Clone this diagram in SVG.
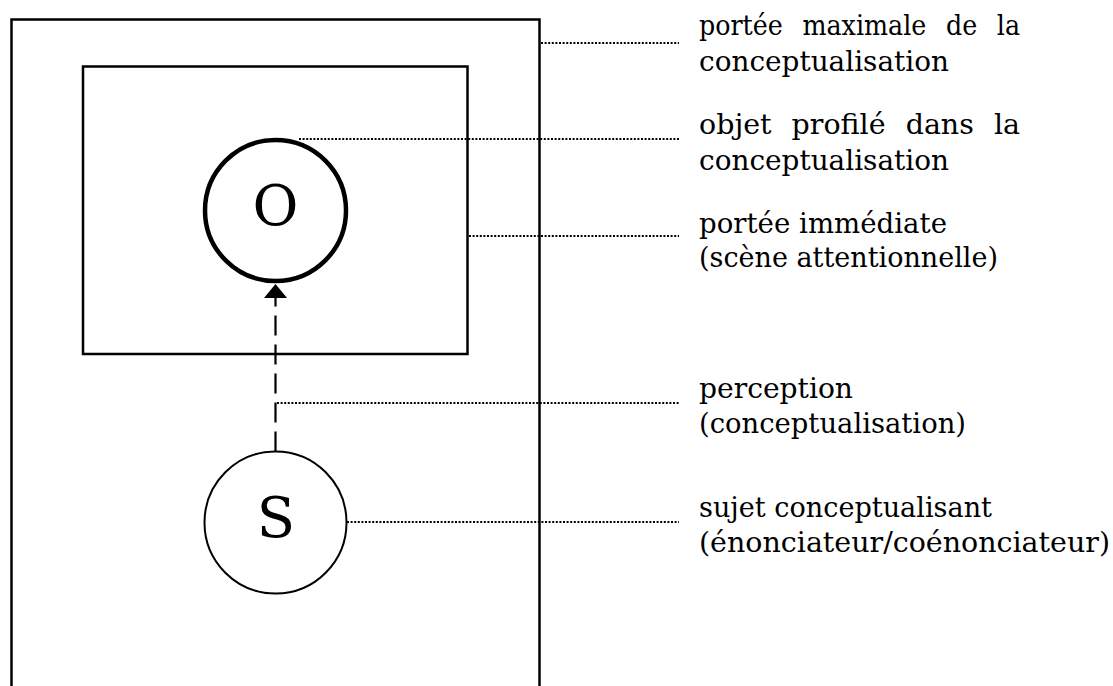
<svg xmlns="http://www.w3.org/2000/svg" width="1113" height="686" viewBox="0 0 1113 686">
<style>
.frame{fill:none;stroke:#000;stroke-width:2.5}
.dot{fill:none;stroke:#000;stroke-width:2;stroke-dasharray:2 1.6}
.lbl{font-family:"DejaVu Serif","Liberation Serif",serif;font-size:28.5px;fill:#000}
.big{font-family:"DejaVu Serif","Liberation Serif",serif;font-size:56px;fill:#000;text-anchor:middle}
</style>
<rect width="1113" height="686" fill="#fff"/>
<g id="scope-max"><path class="frame" d="M11.5,690 V19.5 H539.5 V690"/></g>
<g id="scope-immediate"><rect class="frame" x="83" y="66.5" width="384.5" height="287.5"/></g>
<g id="node-O">
<circle cx="275.5" cy="210.5" r="70.5" fill="none" stroke="#000" stroke-width="4.5"/>
<text class="big" x="275.5" y="225">O</text>
</g>
<g id="node-S">
<circle cx="275.5" cy="522.5" r="71" fill="none" stroke="#000" stroke-width="2"/>
<text class="big" x="276" y="537">S</text>
</g>
<g id="connectors">
<path d="M275.5,451.5 V297" fill="none" stroke="#000" stroke-width="2.2" stroke-dasharray="20 9"/>
<polygon points="275.5,284 264,298 287,298" fill="#000"/>
<path class="dot" d="M541,43 H679"/>
<path class="dot" d="M299,139 H679"/>
<path class="dot" d="M469,236 H679"/>
<path class="dot" d="M277,403 H679"/>
<path class="dot" d="M347,522 H679"/>
</g>
<g id="labels">
<g id="label-max">
<text class="lbl" x="699" y="35" word-spacing="13" textLength="321" lengthAdjust="spacingAndGlyphs">portée maximale de la</text>
<text class="lbl" x="699" y="71" textLength="250" lengthAdjust="spacingAndGlyphs">conceptualisation</text>
</g>
<g id="label-obj">
<text class="lbl" x="699" y="134" word-spacing="11" textLength="321" lengthAdjust="spacingAndGlyphs">objet profilé dans la</text>
<text class="lbl" x="699" y="170" textLength="250" lengthAdjust="spacingAndGlyphs">conceptualisation</text>
</g>
<g id="label-imm">
<text class="lbl" x="699" y="233" textLength="248" lengthAdjust="spacingAndGlyphs">portée immédiate</text>
<text class="lbl" x="699" y="267" textLength="299" lengthAdjust="spacingAndGlyphs">(scène attentionnelle)</text>
</g>
<g id="label-perc">
<text class="lbl" x="699" y="398" textLength="154" lengthAdjust="spacingAndGlyphs">perception</text>
<text class="lbl" x="699" y="433" textLength="267" lengthAdjust="spacingAndGlyphs">(conceptualisation)</text>
</g>
<g id="label-subj">
<text class="lbl" x="699" y="517" textLength="293" lengthAdjust="spacingAndGlyphs">sujet conceptualisant</text>
<text class="lbl" x="699" y="552" textLength="411" lengthAdjust="spacingAndGlyphs">(énonciateur/coénonciateur)</text>
</g>
</g>
</svg>
